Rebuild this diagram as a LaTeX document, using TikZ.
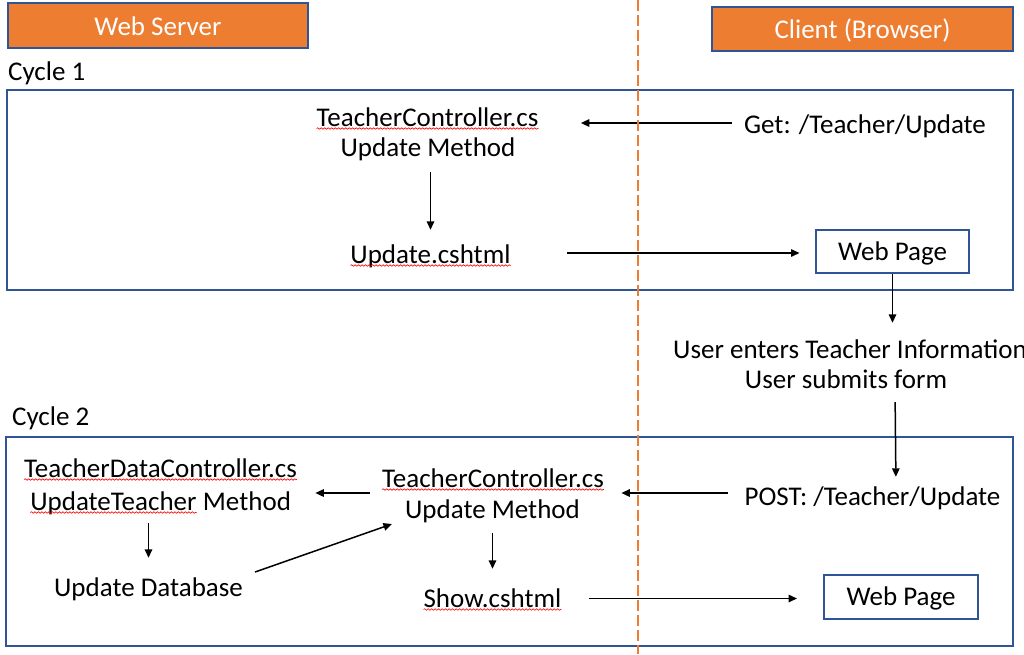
\documentclass[tikz,border=0pt]{standalone}
\usepackage{fontspec}
\setmainfont{Carlito}
\usetikzlibrary{arrows.meta,calc,decorations.pathmorphing}
\definecolor{accent}{HTML}{ED7D31}
\definecolor{frame}{HTML}{2F5597}
\tikzset{
  lbl/.style={font=\fontsize{27}{31}\selectfont, inner sep=0pt, text height=17pt, text depth=0pt, anchor=base},
  head/.style={lbl, anchor=center, text height=19.5pt, text depth=0pt, draw=frame, line width=2pt, fill=accent, text=white},
  page/.style={lbl, anchor=center, draw=frame, line width=2pt, minimum width=153pt, minimum height=43pt},
  cycleframe/.style={draw=frame, line width=2pt},
  arr/.style={line width=1.5pt, -{Triangle[length=8.5pt,width=7.5pt]}},
  squig/.style={draw=red, line width=0.6pt, decorate, decoration={snake, amplitude=0.8pt, segment length=3.5pt}},
  divider/.style={draw=accent, line width=2pt, dash pattern=on 11pt off 4pt}
}
% word with a red wavy underline
\newcommand\spell[1]{\tikz[baseline=0pt]{\node[inner sep=0pt, outer sep=0pt, anchor=base west, text height=, text depth=] (sw) at (0,0) {#1}; \path[squig] ([yshift=-2.5pt]sw.base west) -- ([yshift=-2.5pt]sw.base east);}}

\begin{document}
\begin{tikzpicture}[x=1pt,y=-1pt]
\useasboundingbox (0,0) rectangle (1024,654);

% column headers
\node[head, minimum width=300pt, minimum height=45pt] (server) at (158,25.5) {Web Server};
\node[head, minimum width=301pt, minimum height=44pt] (client) at (862.5,29) {Client (Browser)};

% cycle frames and their labels
\draw[cycleframe] (7,89.5) rectangle (1013,289.5);
\draw[cycleframe] (6,436.5) rectangle (1013,646);
\node[lbl, anchor=base west] (cyc1) at (8,80) {Cycle 1};
\node[lbl, anchor=base west] (cyc2) at (12,425) {Cycle 2};

% cycle 1
\node[lbl] (tc1) at (427.5,126) {\spell{TeacherController.cs}};
\node[lbl] (tc1m) at (428,156) {Update Method};
\node[lbl] (get) at (865,133) {Get: /Teacher/Update};
\node[lbl] (upd) at (430.5,263) {\spell{Update.cshtml}};
\node[page] (wp1) at (892.5,251.5) {Web Page};

% user interaction
\node[lbl] (ue) at (850,358) {User enters Teacher Information};
\node[lbl] (uem) at (846,388) {User submits form};

% cycle 2
\node[lbl] (post) at (872.5,505) {POST: /Teacher/Update};
\node[lbl] (tc2) at (493,487) {\spell{TeacherController.cs}};
\node[lbl] (tc2m) at (492.5,518) {Update Method};
\node[lbl] (tdc) at (160.5,477) {\spell{TeacherDataController.cs}};
\node[lbl] (tdcm) at (160.5,510) {\spell{UpdateTeacher} Method};
\node[lbl] (db) at (148.5,596) {Update Database};
\node[lbl] (show) at (492.5,607) {\spell{Show.cshtml}};
\node[page, minimum width=154pt, minimum height=44pt] (wp2) at (901,596.5) {Web Page};

% connectors, cycle 1
\draw[arr, shorten <=12pt, shorten >=42pt] ($(get.west)+(0,-1.5)$) -- ($(get.west -| tc1.east)+(0,-1.5)$);
\draw[arr, shorten <=16pt, shorten >=16pt] (tc1m.south -| upd.north) -- (upd.north);
\draw[arr, shorten <=56pt, shorten >=15.5pt] ($(upd.east)+(0,-1.5)$) -- ($(upd.east -| wp1.west)+(0,-1.5)$);
\draw[arr, shorten >=18pt] (wp1.south) -- (wp1.south |- ue.north);
\draw[arr, shorten <=14pt, shorten >=11pt] ($(wp1.south |- uem.south)+(2.5,0)$) -- ($(wp1.south |- post.north)+(3.5,0)$);

% connectors, cycle 2
\draw[arr, shorten <=16pt, shorten >=17pt] ($(post.west)+(0,-3.5)$) -- ($(post.west -| tc2.east)+(0,-3.5)$);
\draw[arr, shorten <=12pt, shorten >=18pt] ($(tc2.west |- post.west)+(0,-3.5)$) -- ($(tdc.east |- post.west)+(0,-3.5)$);
\draw[arr, shorten <=13pt, shorten >=21pt] (tdcm.south -| db.north) -- (db.north);
\draw[arr] ($(db.east)+(12,-15.5)$) -- ($(tc2m.west)+(-13,14.5)$);
\draw[arr, shorten <=15pt, shorten >=21pt] (tc2m.south) -- (tc2m.south |- show.north);
\draw[arr, shorten <=27pt, shorten >=26pt] (show.east) -- (show.east -| wp2.west);

% server / client divider
\draw[divider] (638,0) -- (638,654);
\end{tikzpicture}
\end{document}
